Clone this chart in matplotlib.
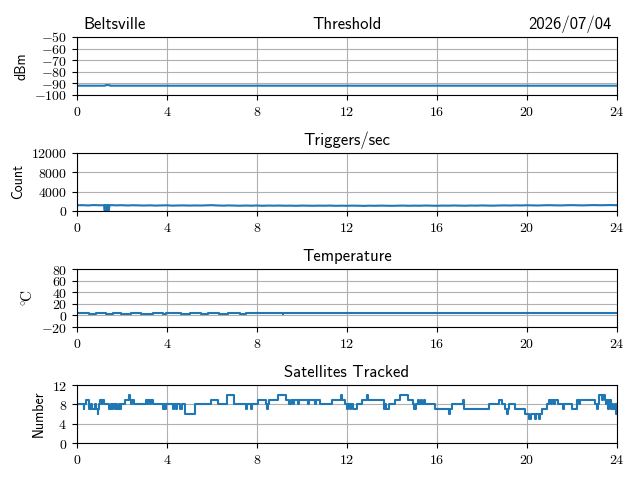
import numpy as np
import matplotlib
matplotlib.use('Agg')
import matplotlib.pyplot as plt
from matplotlib.ticker import FuncFormatter

plt.rcParams['font.family'] = 'cmss10'
plt.rcParams['mathtext.fontset'] = 'cm'
plt.rcParams['axes.unicode_minus'] = False
plt.rcParams['axes.formatter.use_mathtext'] = True

site = 'Beltsville'
date = '2026/07/04'

# threshold (dBm)
thr_t = [0.0, 1.25, 1.28, 1.45, 1.48, 24.0]
thr_v = [-92, -92, -91.5, -91.5, -92, -92]

# triggers/sec, every 15 min
trig_v = [1180, 1210, 1150, 1230, 1190, 1160, 1220, 1170, 1200, 1140, 1190, 1160,
          1130, 1170, 1120, 1150, 1180, 1110, 1140, 1160, 1120, 1150, 1130, 1170,
          1200, 1140, 1110, 1150, 1120, 1090, 1130, 1100, 1140, 1080, 1120, 1100,
          1130, 1090, 1110, 1070, 1120, 1100, 1080, 1110, 1090, 1120, 1070, 1100,
          1080, 1110, 1090, 1060, 1100, 1080, 1110, 1090, 1070, 1100, 1120, 1080,
          1110, 1090, 1130, 1100, 1080, 1120, 1100, 1140, 1110, 1090, 1130, 1110,
          1150, 1120, 1100, 1140, 1160, 1130, 1170, 1150, 1190, 1160, 1140, 1180,
          1200, 1170, 1150, 1190, 1210, 1180, 1160, 1200, 1220, 1190, 1210, 1230,
          1200]
trig_t = list(np.arange(len(trig_v)) * 0.25)
# dropout near 1.3 h
dip_t = [1.22, 1.24, 1.27, 1.30, 1.33, 1.36, 1.39, 1.42, 1.45]
dip_v = [1200, 80, 1250, 40, 1180, 60, 1240, 30, 1190]

# temperature (C)
temp_t = [0.0, 0.56, 0.86, 1.30, 1.60, 1.97, 2.40, 2.86, 3.38, 3.82, 3.97,
          4.64, 5.01, 5.53, 5.82, 6.34, 6.71, 7.23, 7.53, 9.14, 9.18, 24.0]
temp_v = [3.6, 2.5, 3.6, 2.5, 3.6, 2.5, 3.6, 2.5, 3.6, 2.5, 3.6,
          2.5, 3.6, 2.5, 3.6, 2.5, 3.6, 2.5, 3.6, 2.5, 3.6, 3.6]

# satellites tracked (step changes)
sat_t = [0.0, 0.30, 0.34, 0.39, 0.56, 0.62, 0.66, 0.82, 0.86, 0.92, 0.96, 1.00,
         1.05, 1.10, 1.13, 1.22, 1.45, 1.50, 1.56, 1.62, 1.68, 1.74, 1.80, 1.86,
         1.92, 1.97, 2.16, 2.34, 2.38, 2.43, 2.46, 2.52, 3.08, 3.14, 3.18, 3.25,
         3.28, 3.38, 3.82, 3.87, 3.92, 3.97, 4.27, 4.32, 4.42, 4.47, 4.60, 4.66,
         4.79, 5.23, 5.97, 6.27, 6.68, 7.00, 7.53, 7.58, 7.75, 7.80, 8.04, 8.41,
         8.45, 8.50, 8.56, 8.93, 9.30, 9.45, 9.50, 9.62, 9.66, 9.82, 9.86, 10.26,
         10.30, 10.60, 10.64, 10.79, 11.33, 11.75, 11.80, 11.90, 12.00, 12.05, 12.12, 12.20,
         12.28, 12.45, 12.67, 12.90, 12.95, 13.63, 13.68, 13.75, 13.85, 14.15, 14.37, 14.70,
         14.96, 15.00, 15.06, 15.15, 15.20, 15.28, 15.35, 15.42, 15.48, 15.93, 16.52, 16.58,
         16.67, 17.17, 17.22, 18.30, 18.74, 18.90, 19.04, 19.10, 19.14, 19.19, 19.48, 19.93,
         20.10, 20.16, 20.36, 20.42, 20.55, 20.60, 20.67, 20.90, 20.98, 21.05, 21.10, 21.20,
         21.25, 21.40, 21.60, 21.65, 22.00, 22.22, 22.30, 22.35, 23.04, 23.10, 23.15, 23.19,
         23.33, 23.38, 23.45, 23.50, 23.55, 23.60, 23.65, 23.72, 23.78, 23.84, 23.90, 23.95,
         24.00]
sat_n = [8, 7, 8, 9, 7, 8, 7, 8, 7, 6, 7, 8,
         9, 8, 9, 8, 7, 8, 7, 8, 7, 8, 7, 8,
         7, 8, 9, 10, 9, 8, 9, 8, 9, 8, 9, 8,
         9, 8, 7, 8, 7, 8, 7, 8, 7, 8, 7, 8,
         6, 8, 9, 8, 10, 8, 7, 8, 7, 8, 9, 8,
         7, 8, 9, 10, 9, 8, 9, 8, 9, 8, 9, 8,
         9, 8, 9, 8, 9, 10, 9, 8, 7, 8, 7, 8,
         7, 8, 9, 10, 9, 7, 8, 7, 8, 9, 10, 9,
         8, 7, 8, 9, 8, 9, 8, 9, 8, 7, 6, 7,
         8, 9, 7, 8, 9, 8, 7, 6, 7, 8, 7, 6,
         5, 6, 5, 6, 5, 6, 7, 8, 9, 8, 9, 8,
         9, 8, 7, 8, 7, 9, 8, 9, 8, 7, 8, 10,
         9, 10, 9, 8, 9, 7, 9, 7, 8, 7, 8, 6,
         8]

hours = [0, 4, 8, 12, 16, 20, 24]

t_all = np.array(trig_t + dip_t)
v_all = np.array(trig_v + dip_v)
order = np.argsort(t_all, kind='stable')

fig, axs = plt.subplots(4, 1, figsize=(6.4, 4.8), dpi=100)
fig.subplots_adjust(left=0.12, right=0.964, top=0.923, bottom=0.077, hspace=1.0)

mfmt = FuncFormatter(lambda v, p: r'$%d$' % v if v >= 0 else r'$-%d$' % -v)

ax = axs[0]
ax.plot(thr_t, thr_v, color='#1f77b4', lw=1.5)
ax.set_ylim(-100, -50)
ax.set_yticks([-100, -90, -80, -70, -60, -50])
ax.set_ylabel('dBm')
ax.set_title('Threshold', fontsize=12)
ax.set_title(site, loc='left', fontsize=12, x=0.013)
ax.set_title(date, loc='right', fontsize=12, x=0.99)

ax = axs[1]
ax.plot(t_all[order], v_all[order], color='#1f77b4', lw=1.5)
ax.set_ylim(0, 12000)
ax.set_yticks([0, 4000, 8000, 12000])
ax.set_ylabel('Count')
ax.set_title('Triggers/sec', fontsize=12)

ax = axs[2]
ax.plot(temp_t, temp_v, color='#1f77b4', lw=1.5, drawstyle='steps-post')
ax.set_ylim(-20, 80)
ax.set_yticks([-20, 0, 20, 40, 60, 80])
ax.set_ylabel(r'$^{\circ}\!\mathrm{C}$', fontsize=11)
ax.set_title('Temperature', fontsize=12)

ax = axs[3]
ax.plot(sat_t, sat_n, color='#1f77b4', lw=1.5, drawstyle='steps-post')
ax.set_ylim(0, 12)
ax.set_yticks([0, 4, 8, 12])
ax.set_ylabel('Number')
ax.set_title('Satellites Tracked', fontsize=12)

for ax in axs:
    ax.set_xlim(0, 24)
    ax.set_xticks(hours)
    ax.xaxis.set_major_formatter(mfmt)
    ax.yaxis.set_major_formatter(mfmt)
    ax.grid(True, color='#b0b0b0')
    ax.tick_params(labelsize=10)

fig.savefig('out.png')
